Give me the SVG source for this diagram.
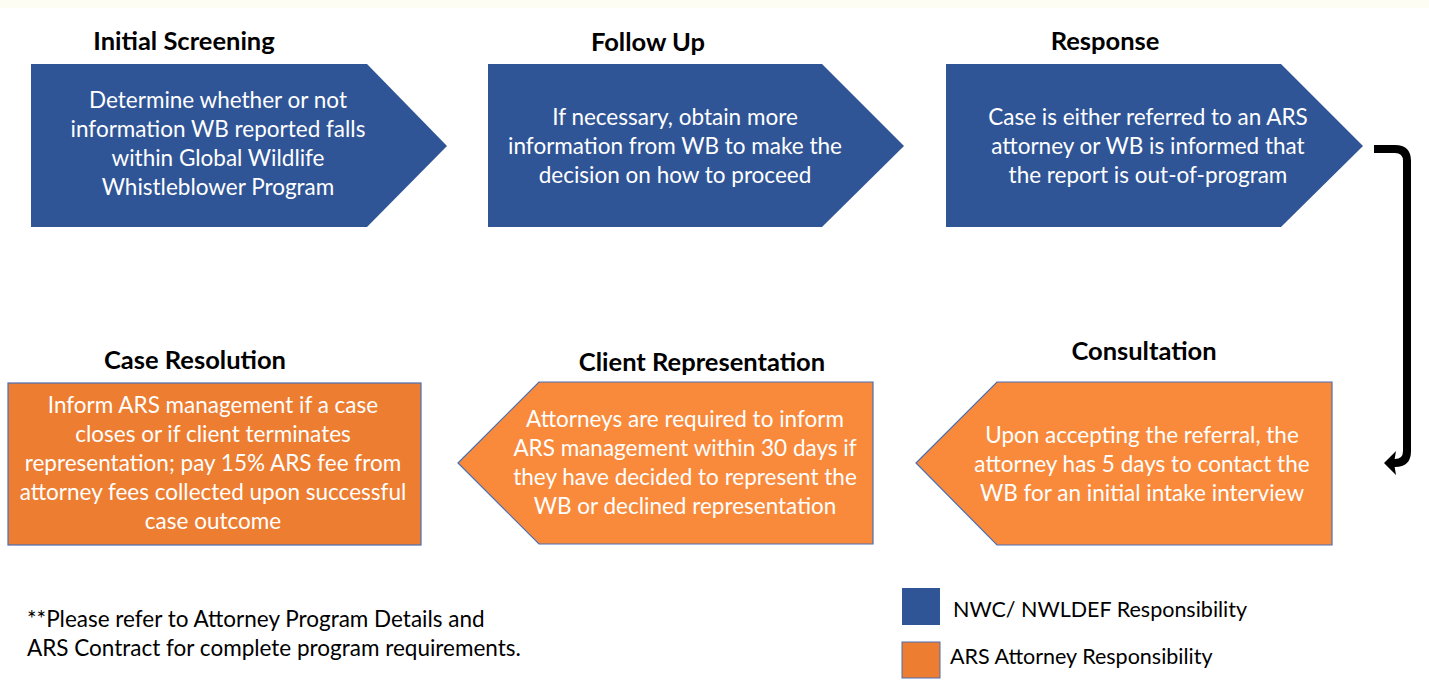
<svg xmlns="http://www.w3.org/2000/svg" width="1429" height="691" viewBox="0 0 1429 691">
<style>
.title{font-family:Lato,"Liberation Sans",sans-serif;font-weight:bold;font-size:25.5px;fill:#000;text-anchor:middle}
.body{font-family:Lato,"Liberation Sans",sans-serif;font-size:22.5px;fill:#fff;text-anchor:middle}
.note{font-family:Lato,"Liberation Sans",sans-serif;font-size:21.5px;fill:#000}
.foot{font-family:Lato,"Liberation Sans",sans-serif;font-size:22.5px;fill:#000}
.blue{fill:#2F5597}
.orange{fill:#F98A3C;stroke:#4A6FB5;stroke-width:1.2}
.orange2{fill:#ED7D31;stroke:#4A6FB5;stroke-width:1.2}
</style>
<rect width="1429" height="691" fill="#fff"/>
<rect width="1429" height="8" fill="#FEFDF3"/>
<g id="initial-screening">
<text class="title" x="184" y="50">Initial Screening</text>
<polygon class="blue" points="31,64 367,64 447,146 367,227 31,227"/>
<text class="body" x="218" y="108">Determine whether or not</text>
<text class="body" x="218" y="137">information WB reported falls</text>
<text class="body" x="218" y="166">within Global Wildlife</text>
<text class="body" x="218" y="195">Whistleblower Program</text>
</g>
<g id="follow-up">
<text class="title" x="648" y="51">Follow Up</text>
<polygon class="blue" points="488,64 822,64 904,146 822,227 488,227"/>
<text class="body" x="675" y="125">If necessary, obtain more</text>
<text class="body" x="675" y="154">information from WB to make the</text>
<text class="body" x="675" y="183">decision on how to proceed</text>
</g>
<g id="response">
<text class="title" x="1105" y="50">Response</text>
<polygon class="blue" points="946,64 1281,64 1363,146 1281,227 946,227"/>
<text class="body" x="1148" y="125">Case is either referred to an ARS</text>
<text class="body" x="1148" y="154">attorney or WB is informed that</text>
<text class="body" x="1148" y="183">the report is out-of-program</text>
</g>
<g id="consultation">
<text class="title" x="1144" y="360">Consultation</text>
<polygon class="orange" points="916,463 997,382 1332,382 1332,545 997,545"/>
<text class="body" x="1142" y="443">Upon accepting the referral, the</text>
<text class="body" x="1142" y="472">attorney has 5 days to contact the</text>
<text class="body" x="1142" y="501">WB for an initial intake interview</text>
</g>
<g id="client-representation">
<text class="title" x="702" y="371">Client Representation</text>
<polygon class="orange" points="458,463 539,382 873,382 873,544 539,544"/>
<text class="body" x="685" y="427">Attorneys are required to inform</text>
<text class="body" x="685" y="456">ARS management within 30 days if</text>
<text class="body" x="685" y="485">they have decided to represent the</text>
<text class="body" x="685" y="514">WB or declined representation</text>
</g>
<g id="case-resolution">
<text class="title" x="195" y="369">Case Resolution</text>
<rect class="orange2" x="8" y="383" width="413" height="162"/>
<text class="body" x="213" y="413">Inform ARS management if a case</text>
<text class="body" x="213" y="442">closes or if client terminates</text>
<text class="body" x="213" y="471">representation; pay 15% ARS fee from</text>
<text class="body" x="213" y="500">attorney fees collected upon successful</text>
<text class="body" x="213" y="529">case outcome</text>
</g>
<g id="connectors">
<path d="M1374,149 L1395,149 Q1407,149 1407,161 L1407,451 Q1407,463 1395,463 L1393,463" fill="none" stroke="#000" stroke-width="8"/>
<polygon points="1384,463 1396,451 1394,463 1396,475" fill="#000"/>
</g>
<g id="legend">
<rect x="902" y="588" width="38" height="37" fill="#2F5597"/>
<text class="note" x="953" y="617">NWC/ NWLDEF Responsibility</text>
<rect x="902" y="642" width="38" height="36" fill="#ED7D31" stroke="#4A6FB5" stroke-width="1"/>
<text class="note" x="950" y="664">ARS Attorney Responsibility</text>
</g>
<g id="footnote">
<text class="foot" x="27" y="627">**Please refer to Attorney Program Details and</text>
<text class="foot" x="27" y="656">ARS Contract for complete program requirements.</text>
</g>
</svg>
